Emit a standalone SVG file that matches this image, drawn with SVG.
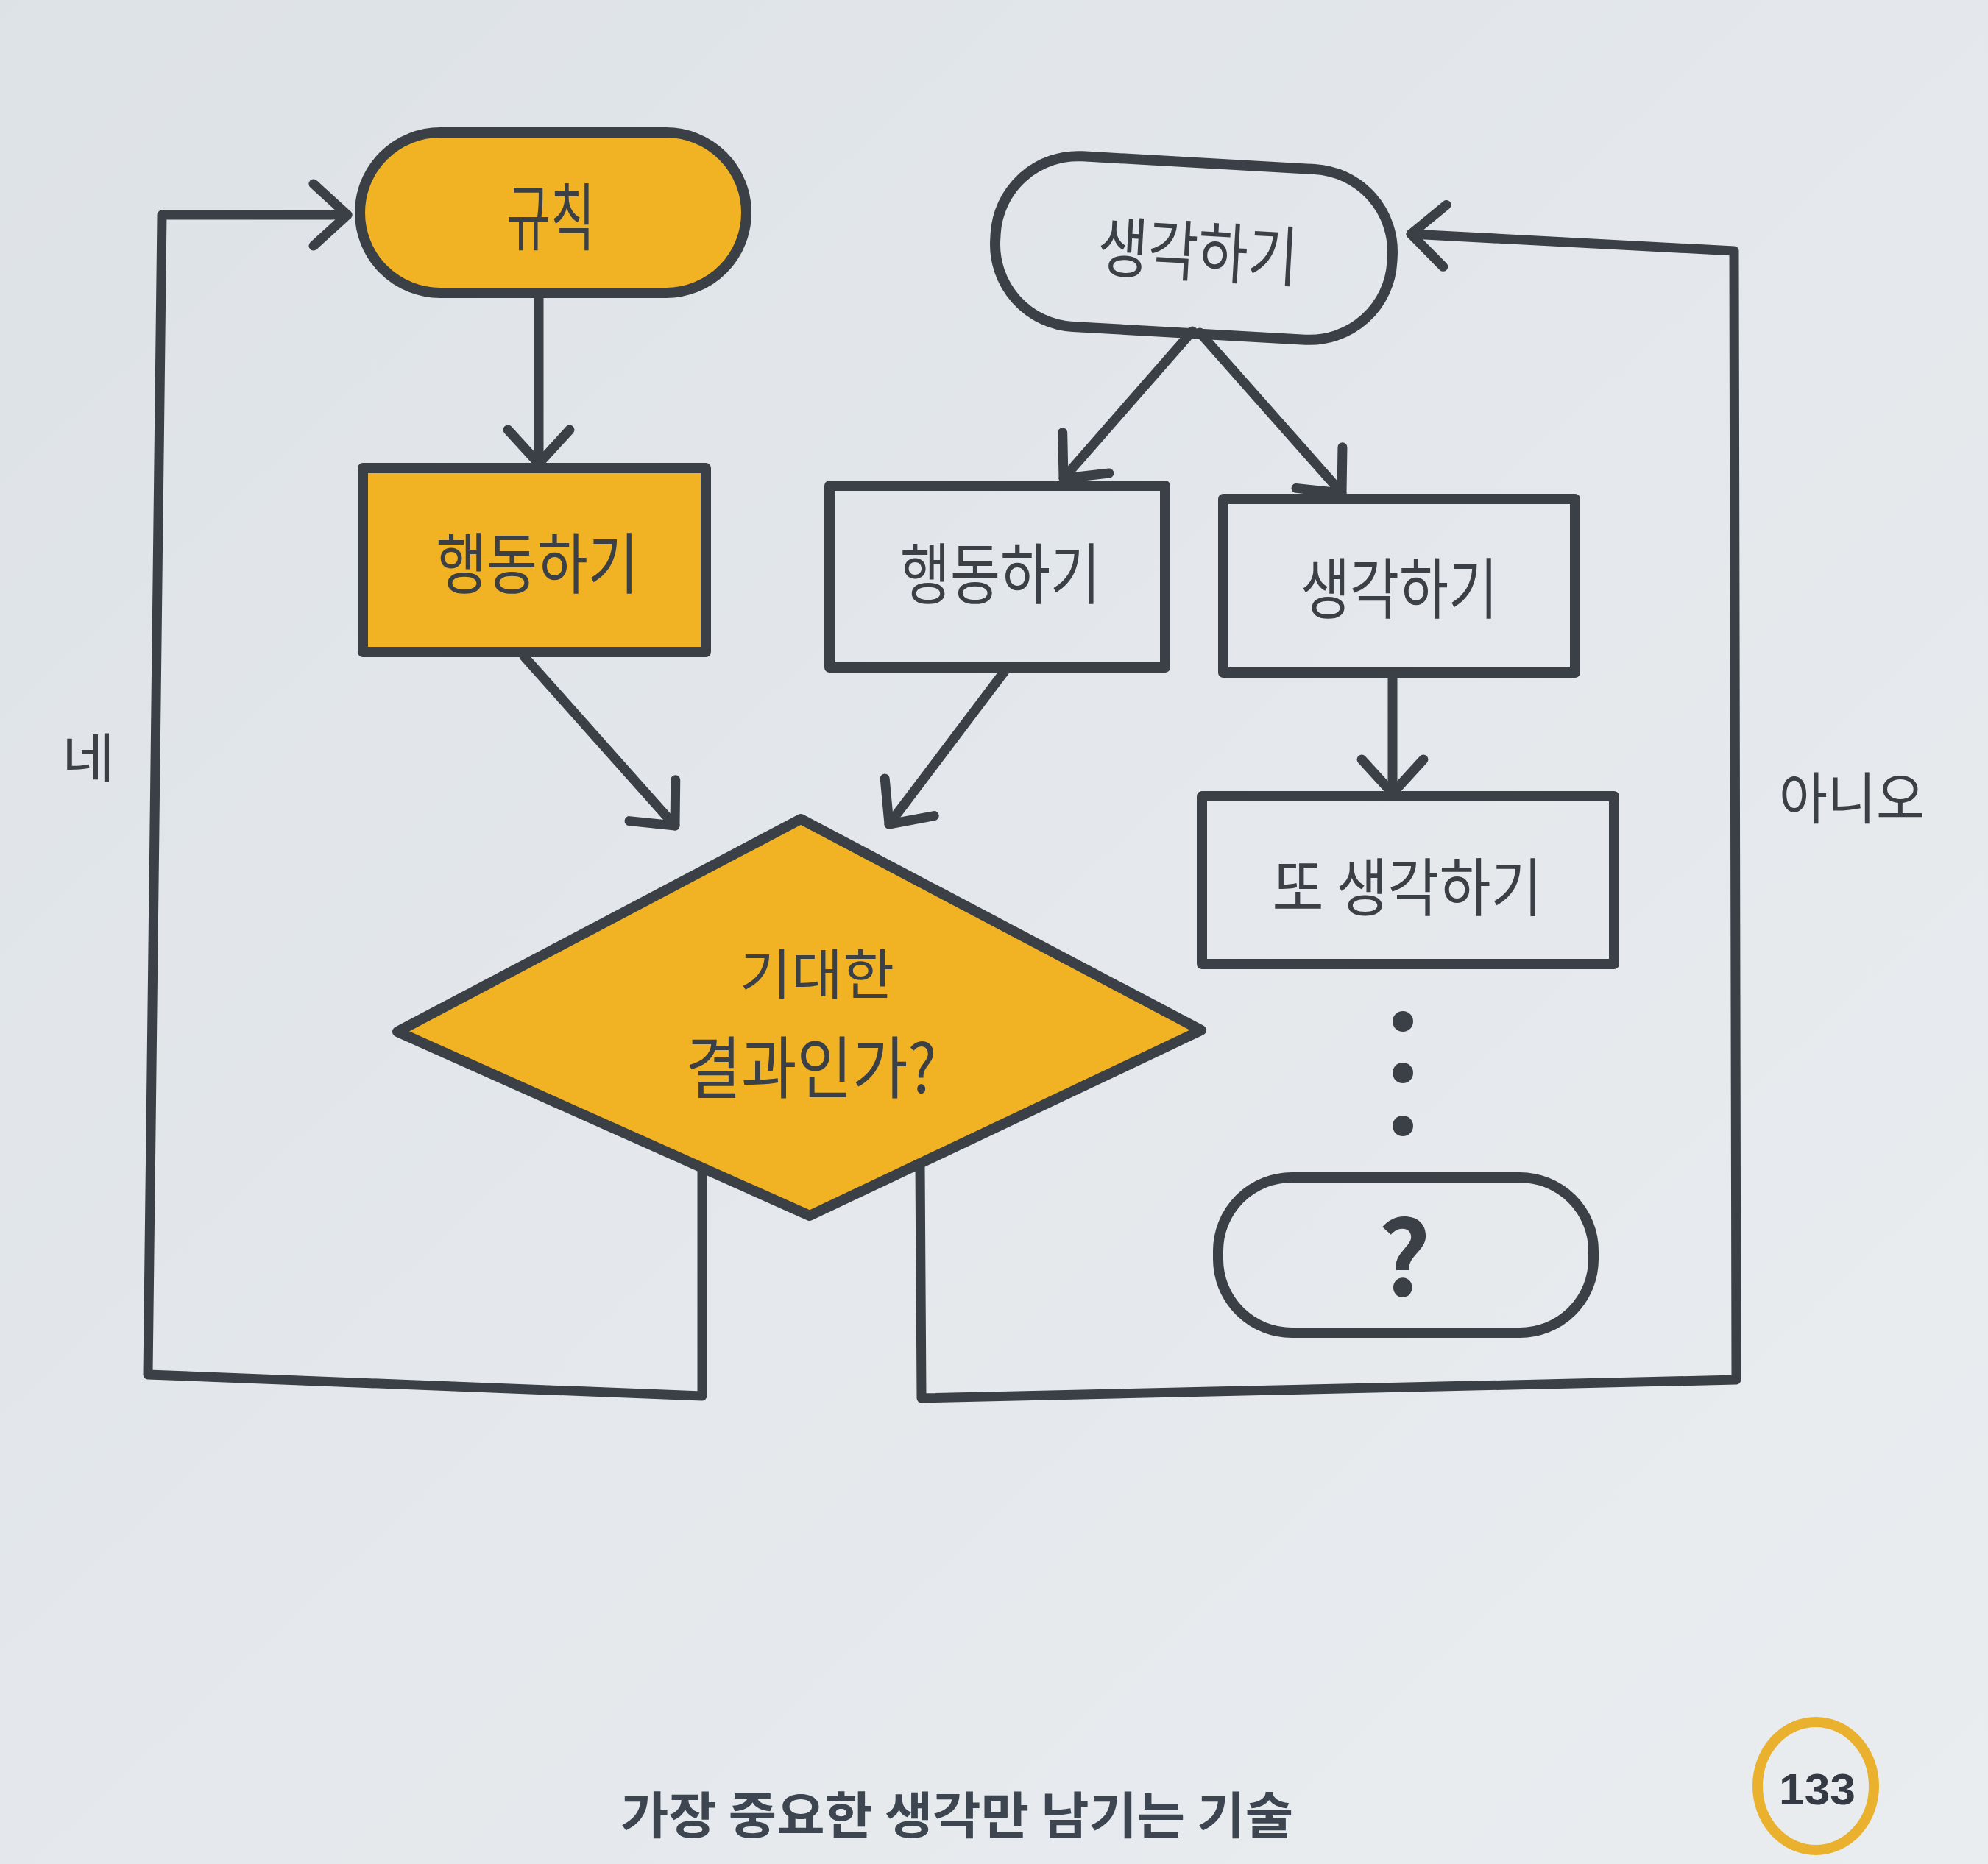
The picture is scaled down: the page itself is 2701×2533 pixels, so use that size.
<svg xmlns="http://www.w3.org/2000/svg" width="2701" height="2533" viewBox="0 0 2701 2533">
  <defs>
    <linearGradient id="paper" x1="0" y1="0" x2="1" y2="1">
      <stop offset="0" stop-color="#dde2e6"/>
      <stop offset="0.5" stop-color="#e4e8ec"/>
      <stop offset="1" stop-color="#e9edf0"/>
    </linearGradient>
    <marker id="ah" markerUnits="userSpaceOnUse" viewBox="-70 -60 80 120" markerWidth="80" markerHeight="120" refX="0" refY="0" orient="auto" overflow="visible">
      <path d="M -46 -42 L 0 0 L -46 42" fill="none" stroke="#3b4046" stroke-width="13" stroke-linecap="round" stroke-linejoin="round"/>
    </marker>
    <style>
      .box { stroke: #3b4046; stroke-width: 14; stroke-linejoin: round; }
      .yel { fill: #f1b323; }
      .wht { fill: none; }
      .lbl { font-family: "Noto Sans CJK KR", "Noto Sans", sans-serif; font-weight: 400; fill: #3b4046; text-anchor: middle; dominant-baseline: central; }
      .qm { font-weight: 700; }
      .con { fill: none; stroke: #3b4046; stroke-width: 13; stroke-linecap: round; stroke-linejoin: round; }
      .foot { font-family: "Noto Sans CJK KR", "Noto Sans", sans-serif; font-weight: 700; fill: #3d4650; text-anchor: middle; }
    </style>
  </defs>

  <rect x="0" y="0" width="2701" height="2533" fill="url(#paper)"/>

  <g id="connectors">
    <line class="con" x1="732" y1="405" x2="732" y2="630" marker-end="url(#ah)"/>
    <line class="con" x1="1620" y1="450" x2="1445" y2="650" marker-end="url(#ah)"/>
    <line class="con" x1="1630" y1="452" x2="1823" y2="670" marker-end="url(#ah)"/>
    <line class="con" x1="712" y1="892" x2="917" y2="1122" marker-end="url(#ah)"/>
    <line class="con" x1="1365" y1="912" x2="1208" y2="1120" marker-end="url(#ah)"/>
    <line class="con" x1="1892" y1="918" x2="1892" y2="1078" marker-end="url(#ah)"/>
    <polyline class="con" points="954,1588 954,1897 201,1868 220,292 472,292" marker-end="url(#ah)"/>
    <polyline class="con" points="1250,1582 1252,1900 2359,1875 2356,341 1917,318" marker-end="url(#ah)"/>
  </g>

  <g id="node-rule">
    <rect class="box yel" x="489" y="180" width="525" height="218" rx="109"/>
    <text class="lbl" x="748" y="288" font-size="100" textLength="120" lengthAdjust="spacingAndGlyphs">규칙</text>
  </g>

  <g id="node-think-start" transform="rotate(3.2 1622 337)">
    <rect class="box wht" x="1352" y="221" width="540" height="232" rx="112"/>
    <text class="lbl" x="1628" y="336" font-size="90" textLength="272" lengthAdjust="spacingAndGlyphs">생각하기</text>
  </g>

  <g id="node-act-yellow">
    <rect class="box yel" x="493" y="636" width="466" height="250"/>
    <text class="lbl" x="730" y="760" font-size="90" textLength="275" lengthAdjust="spacingAndGlyphs">행동하기</text>
  </g>

  <g id="node-act-white">
    <rect class="box wht" x="1127" y="660" width="456" height="247"/>
    <text class="lbl" x="1359" y="774" font-size="90" textLength="272" lengthAdjust="spacingAndGlyphs">행동하기</text>
  </g>

  <g id="node-think">
    <rect class="box wht" x="1662" y="678" width="478" height="236"/>
    <text class="lbl" x="1901" y="794" font-size="90" textLength="268" lengthAdjust="spacingAndGlyphs">생각하기</text>
  </g>

  <g id="node-think-again">
    <rect class="box wht" x="1633" y="1082" width="560" height="228"/>
    <text class="lbl" x="1912" y="1200" font-size="86" textLength="367" lengthAdjust="spacingAndGlyphs">또 생각하기</text>
  </g>

  <g id="node-dots" fill="#3b4046">
    <circle cx="1906" cy="1388" r="14"/>
    <circle cx="1906" cy="1458" r="14"/>
    <circle cx="1906" cy="1530" r="14"/>
  </g>

  <g id="node-unknown">
    <rect class="box wht" x="1655" y="1600" width="510" height="211" rx="100"/>
    <text class="lbl qm" x="1908" y="1700" font-size="140">?</text>
  </g>

  <g id="node-decision">
    <polygon class="box yel" points="1088,1113 1632,1400 1100,1652 540,1402"/>
    <text class="lbl" x="1110" y="1318" font-size="74" textLength="210" lengthAdjust="spacingAndGlyphs">기대한</text>
    <text class="lbl" x="1102" y="1444" font-size="92" textLength="341" lengthAdjust="spacingAndGlyphs">결과인가?</text>
  </g>

  <g id="labels">
    <text class="lbl" x="120" y="1024" font-size="72" textLength="72" lengthAdjust="spacingAndGlyphs">네</text>
    <text class="lbl" x="2516" y="1080" font-size="76" textLength="198" lengthAdjust="spacingAndGlyphs">아니오</text>
  </g>

  <g id="footer">
    <text class="foot" x="1300" y="2492" font-size="68" textLength="914" lengthAdjust="spacingAndGlyphs">가장 중요한 생각만 남기는 기술</text>
    <ellipse cx="2467" cy="2427" rx="79" ry="87" fill="none" stroke="#eab12f" stroke-width="14"/>
    <text x="2469" y="2452" font-family="'Liberation Sans', 'Noto Sans', sans-serif" font-weight="700" font-size="60" fill="#333a44" text-anchor="middle" textLength="104" lengthAdjust="spacingAndGlyphs">133</text>
  </g>
</svg>
